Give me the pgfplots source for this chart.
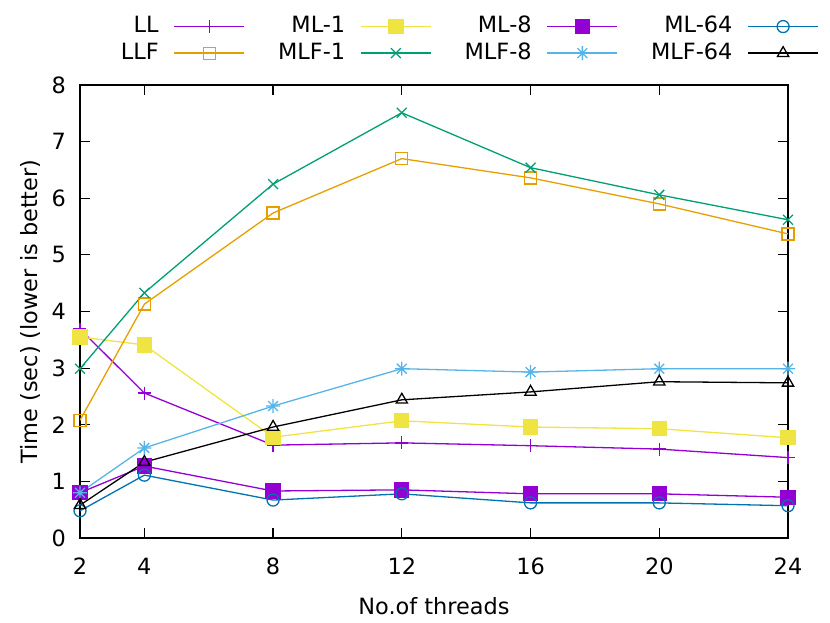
\documentclass[border=0pt]{standalone}
\usepackage{fontspec}
\setmainfont{DejaVu Sans}
\usepackage{pgfplots}
\pgfplotsset{compat=1.18}
\definecolor{gpPurple}{HTML}{9400D3}
\definecolor{gpGreen}{HTML}{009E73}
\definecolor{gpSky}{HTML}{56B4E9}
\definecolor{gpOrange}{HTML}{E69F00}
\definecolor{gpYellow}{HTML}{F0E442}
\definecolor{gpBlue}{HTML}{0072B2}
\pgfdeclareplotmark{gpstar}{%
  \pgfpathmoveto{\pgfqpoint{-\pgfplotmarksize}{0pt}}\pgfpathlineto{\pgfqpoint{\pgfplotmarksize}{0pt}}%
  \pgfpathmoveto{\pgfqpoint{0pt}{-\pgfplotmarksize}}\pgfpathlineto{\pgfqpoint{0pt}{\pgfplotmarksize}}%
  \pgfpathmoveto{\pgfqpoint{-0.7\pgfplotmarksize}{-0.7\pgfplotmarksize}}\pgfpathlineto{\pgfqpoint{0.7\pgfplotmarksize}{0.7\pgfplotmarksize}}%
  \pgfpathmoveto{\pgfqpoint{-0.7\pgfplotmarksize}{0.7\pgfplotmarksize}}\pgfpathlineto{\pgfqpoint{0.7\pgfplotmarksize}{-0.7\pgfplotmarksize}}%
  \pgfusepathqstroke}
\begin{document}
\begin{tikzpicture}
\begin{axis}[
  scale only axis, width=708bp, height=453bp,
  at={(0,0)}, anchor=south west,
  xmin=2, xmax=24, ymin=0, ymax=8,
  xtick={2,4,8,12,16,20,24}, ytick={0,1,2,3,4,5,6,7,8},
  tick align=inside, major tick length=10bp,
  axis line style={line width=1.3bp, black},
  tick style={line width=1.2bp, black},
  /pgf/number format/assume math mode=true,
  tick label style={font=\fontsize{22.5}{27}\selectfont},
  label style={font=\fontsize{22.5}{27}\selectfont},
  xticklabel style={inner sep=0pt, yshift=-20bp},
  yticklabel style={inner sep=0pt, xshift=-14bp},
  xlabel={No.of threads}, ylabel={Time (sec) (lower is better)},
  xlabel style={at={(axis description cs:0.5,-0.150)}, anchor=center},
  ylabel style={at={(axis description cs:-0.0706,0.5)}, anchor=center},
  every axis plot/.append style={line width=1.3bp, mark options={solid, line width=1.3bp}},
  legend plot pos=right,
  legend cell align=right,
  legend columns=4,
  legend image code/.code={\draw[line width=1.4bp, mark repeat=2,mark phase=2] plot coordinates {(0bp,0bp) (35bp,0bp) (70bp,0bp)};},
  legend style={draw=none, fill=none, inner sep=0pt, font=\fontsize{22.5}{27}\selectfont,
    at={(1.0438,1.1515)}, anchor=north east,
    nodes={inner sep=0pt, text height=16bp, text depth=4bp},
    row sep=6.6bp,
    /tikz/every odd column/.append style={column sep=15bp},
    /tikz/every even column/.append style={column sep=33bp}},
]
\addplot[color=gpPurple, mark=+, mark size=6.5bp] coordinates {
 (2,3.69) (4,2.56) (8,1.64) (12,1.68) (16,1.63) (20,1.57) (24,1.42)};
\addlegendentry{LL}
\addplot[color=gpYellow, mark=square*, mark size=7bp] coordinates {
 (2,3.55) (4,3.41) (8,1.78) (12,2.07) (16,1.96) (20,1.93) (24,1.77)};
\addlegendentry{ML-1}
\addplot[color=gpPurple, mark=square*, mark size=7bp] coordinates {
 (2,0.80) (4,1.27) (8,0.83) (12,0.85) (16,0.78) (20,0.78) (24,0.72)};
\addlegendentry{ML-8}
\addplot[color=gpBlue, mark=o, mark size=6bp] coordinates {
 (2,0.48) (4,1.11) (8,0.67) (12,0.78) (16,0.62) (20,0.62) (24,0.57)};
\addlegendentry{ML-64}
\addplot[color=gpOrange, mark=square, mark size=6bp] coordinates {
 (2,2.08) (4,4.13) (8,5.74) (12,6.70) (16,6.36) (20,5.90) (24,5.37)};
\addlegendentry{LLF}
\addplot[color=gpGreen, mark=x, mark size=7bp] coordinates {
 (2,2.99) (4,4.33) (8,6.25) (12,7.51) (16,6.54) (20,6.06) (24,5.62)};
\addlegendentry{MLF-1}
\addplot[color=gpSky, mark=gpstar, mark size=7bp] coordinates {
 (2,0.80) (4,1.59) (8,2.33) (12,2.99) (16,2.93) (20,2.99) (24,2.99)};
\addlegendentry{MLF-8}
\addplot[color=black, mark=triangle, mark size=6.5bp] coordinates {
 (2,0.58) (4,1.34) (8,1.96) (12,2.44) (16,2.58) (20,2.76) (24,2.74)};
\addlegendentry{MLF-64}
\end{axis}
\pgfresetboundingbox
\useasboundingbox (-80bp,-85bp) rectangle (750bp,538bp);
\end{tikzpicture}
\end{document}
